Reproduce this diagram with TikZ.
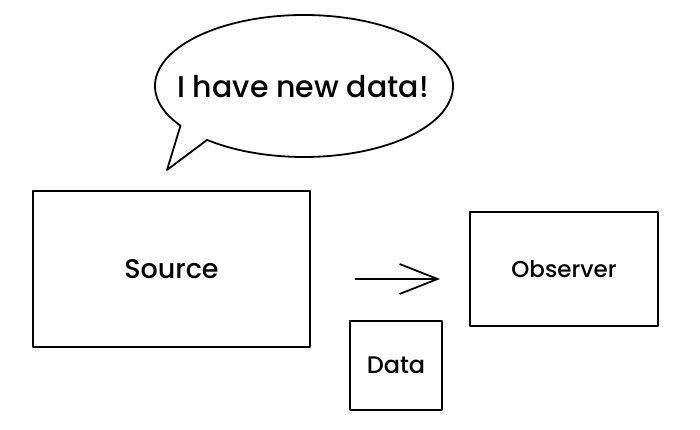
\documentclass[tikz,border=0pt]{standalone}
\usepackage{fontspec}
\setmainfont{Poppins Medium}
\usetikzlibrary{arrows.meta}

\begin{document}
\begin{tikzpicture}[x=1pt, y=-1pt, line width=1.8pt, line join=round,
    box/.style={draw, rectangle, inner sep=0pt},
    txt/.style={font=\fontsize{#1}{#1}\selectfont}]
    	\useasboundingbox (0,0) rectangle (700,430);
    	\coordinate (tip) at (167,170);
    	\draw ([shift={(304,86)}]146:149 and 71) arc[start angle=146, end angle=490.6, x radius=149, y radius=71]
    	      -- (tip) -- cycle;
    	\node[txt=30] (says) at (303,87) {I have new data!};
    	\node[box, minimum width=277pt, minimum height=156pt, txt=27] (source) at (171.5,269) {Source};
    	\node[box, minimum width=188pt, minimum height=114pt, txt=23] (observer) at (564,269) {Observer};
    	\node[box, minimum width=92pt, minimum height=89pt, txt=24] (data) at (396,365.5) {Data};
    	\coordinate (push) at (355,279);
    	\coordinate (arrive) at (440,279);
    	\draw [-{Straight Barb[length=38pt, width=30pt]}] (push)--(arrive);
    	\end{tikzpicture}
\end{document}
